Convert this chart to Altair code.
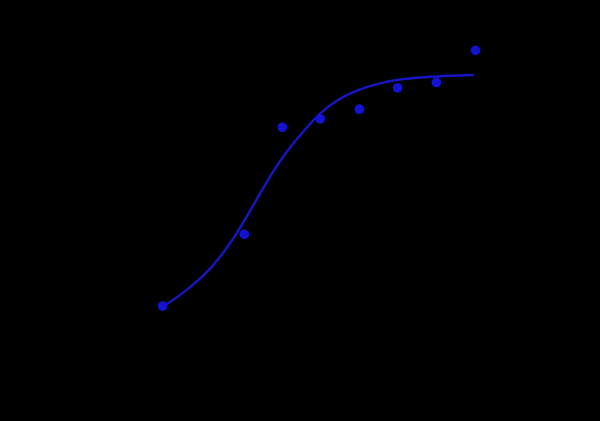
import altair as alt
import pandas as pd

# measured points (log concentration, response)
point_x = [1.0, 3.09, 4.06, 5.03, 6.03, 7.01, 8.0, 9.0]
point_y = [0.42, 1.09, 2.09, 2.17, 2.26, 2.46, 2.51, 2.81]

# fitted curve
curve_x = [0.997, 1.657, 2.084, 2.512, 2.936, 3.363, 3.575, 4.003, 4.430,
           4.770, 5.026, 5.453, 5.877, 6.560, 7.072, 7.754, 8.350, 8.964]
curve_y = [0.411, 0.583, 0.720, 0.900, 1.125, 1.390, 1.525, 1.773, 1.978,
           2.121, 2.218, 2.338, 2.419, 2.501, 2.537, 2.561, 2.573, 2.580]

points = pd.DataFrame({"x": point_x, "y": point_y})
curve = pd.DataFrame({"x": curve_x, "y": curve_y})

xs = alt.Scale(domain=[-0.6, 10.65], nice=False, zero=False)
ys = alt.Scale(domain=[0, 3.0], nice=False, zero=False)

line = alt.Chart(curve).mark_line(color="#1616c4", strokeWidth=2.4, interpolate="monotone").encode(
    x=alt.X("x:Q", scale=xs, axis=None),
    y=alt.Y("y:Q", scale=ys, axis=None),
)
dots = alt.Chart(points).mark_circle(color="#1212d0", size=95, opacity=1).encode(
    x=alt.X("x:Q", scale=xs, axis=None),
    y=alt.Y("y:Q", scale=ys, axis=None),
)

chart = (line + dots).properties(
    width=440, height=321,
    autosize=alt.AutoSizeParams(type="none"),
    padding={"left": 100, "top": 30, "right": 60, "bottom": 70},
    background="#000000",
).configure_view(stroke=None)

chart.save("out.html", embed_options={"renderer": "svg", "actions": False})

with open("out.html", "r", encoding="utf-8") as f:
    html = f.read()
html = html.replace("<head>", "<head><style>html,body{margin:0;padding:0;background:#000;}</style>", 1)
with open("out.html", "w", encoding="utf-8") as f:
    f.write(html)
